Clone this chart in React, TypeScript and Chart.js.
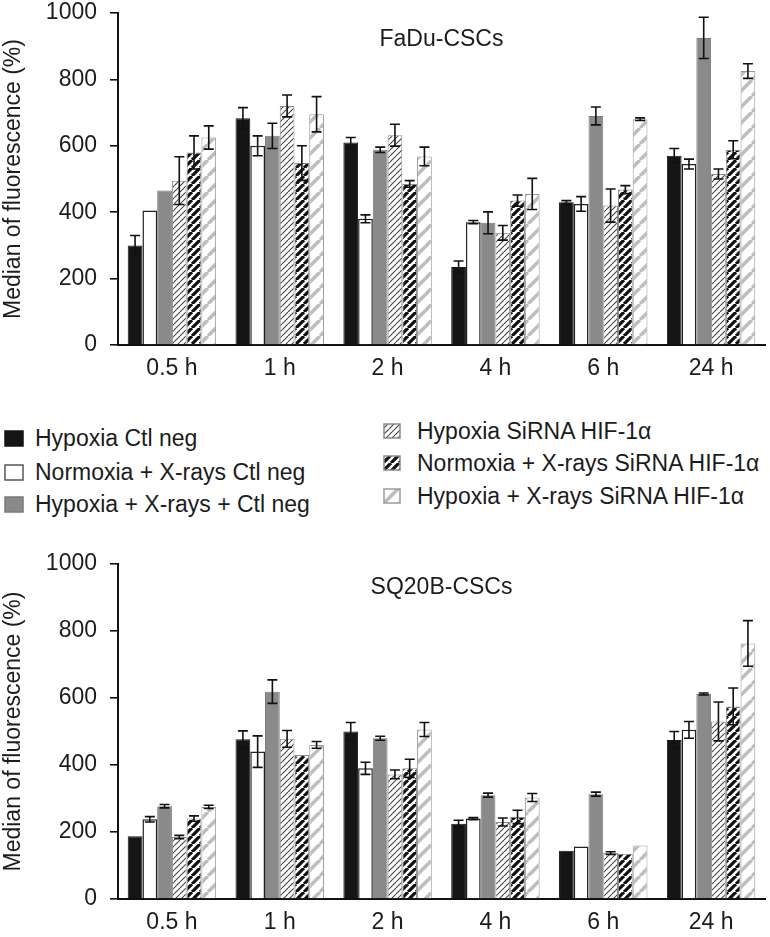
import React, { useEffect, useRef } from 'react';
import { Chart, registerables } from 'chart.js';

Chart.register(...registerables);

// ---------------- DATA ----------------
const categories = ['0.5 h', '1 h', '2 h', '4 h', '6 h', '24 h'];
const seriesNames = [
  'Hypoxia Ctl neg',
  'Normoxia + X-rays Ctl neg',
  'Hypoxia + X-rays + Ctl neg',
  'Hypoxia SiRNA HIF-1α',
  'Normoxia + X-rays SiRNA HIF-1α',
  'Hypoxia + X-rays SiRNA HIF-1α',
];
const yTickValues = [0, 200, 400, 600, 800, 1000];
const yAxisTitle = 'Median of fluorescence (%)';
const faduTitle = 'FaDu-CSCs';
const sq20bTitle = 'SQ20B-CSCs';

// FaDu-CSCs
const faduHypoxiaCtl = [300, 683, 610, 235, 430, 570];
const faduHypoxiaCtlErr = [30, 32, 15, 18, 5, 22];
const faduNormoxiaXCtl = [405, 600, 380, 370, 425, 545];
const faduNormoxiaXCtlErr = [0, 30, 12, 5, 22, 15];
const faduHypoxiaXCtl = [465, 630, 588, 368, 690, 925];
const faduHypoxiaXCtlErr = [0, 38, 8, 33, 27, 62];
const faduHypoxiaSi = [495, 720, 632, 338, 420, 515];
const faduHypoxiaSiErr = [72, 33, 33, 22, 50, 15];
const faduNormoxiaXSi = [580, 548, 485, 435, 468, 588];
const faduNormoxiaXSiErr = [50, 52, 10, 17, 12, 27];
const faduHypoxiaXSi = [625, 695, 568, 455, 680, 825];
const faduHypoxiaXSiErr = [35, 53, 28, 47, 4, 22];

// SQ20B-CSCs
const sqHypoxiaCtl = [187, 477, 500, 225, 144, 475];
const sqHypoxiaCtlErr = [0, 25, 27, 10, 0, 25];
const sqNormoxiaXCtl = [238, 440, 390, 240, 157, 505];
const sqNormoxiaXCtlErr = [8, 47, 18, 3, 0, 25];
const sqHypoxiaXCtl = [277, 619, 480, 310, 313, 612];
const sqHypoxiaXCtlErr = [5, 35, 6, 6, 6, 3];
const sqHypoxiaSi = [185, 478, 372, 230, 137, 530];
const sqHypoxiaSiErr = [5, 25, 13, 12, 4, 58];
const sqNormoxiaXSi = [240, 430, 390, 245, 135, 575];
const sqNormoxiaXSiErr = [8, 0, 27, 20, 0, 55];
const sqHypoxiaXSi = [275, 460, 506, 303, 160, 763];
const sqHypoxiaXSiErr = [5, 10, 21, 12, 0, 68];

const faduValues = [faduHypoxiaCtl, faduNormoxiaXCtl, faduHypoxiaXCtl, faduHypoxiaSi, faduNormoxiaXSi, faduHypoxiaXSi];
const faduErrors = [faduHypoxiaCtlErr, faduNormoxiaXCtlErr, faduHypoxiaXCtlErr, faduHypoxiaSiErr, faduNormoxiaXSiErr, faduHypoxiaXSiErr];
const sqValues = [sqHypoxiaCtl, sqNormoxiaXCtl, sqHypoxiaXCtl, sqHypoxiaSi, sqNormoxiaXSi, sqHypoxiaXSi];
const sqErrors = [sqHypoxiaCtlErr, sqNormoxiaXCtlErr, sqHypoxiaXCtlErr, sqHypoxiaSiErr, sqNormoxiaXSiErr, sqHypoxiaXSiErr];

// ---------------- STYLE ----------------
const FONT = '"Liberation Sans", Arial, Helvetica, sans-serif';
const TEXT = '#1c1c1c';

function diagTile(size: number, color: string, width: number, bg: string, dash?: number[]) {
  const c = document.createElement('canvas');
  c.width = size;
  c.height = size;
  const g = c.getContext('2d')!;
  g.fillStyle = bg;
  g.fillRect(0, 0, size, size);
  g.strokeStyle = color;
  g.lineWidth = width;
  if (dash) g.setLineDash(dash);
  g.beginPath();
  for (let k = -1; k <= 1; k++) {
    g.moveTo(k * size, size);
    g.lineTo(k * size + size, 0);
  }
  g.stroke();
  return c;
}

function seriesStyle(ctx: CanvasRenderingContext2D, i: number) {
  switch (i) {
    case 0:
      return { bg: '#151515', border: '#151515', bw: 1 };
    case 1:
      return { bg: '#ffffff', border: '#222222', bw: 1.5 };
    case 2:
      return { bg: '#8a8a8a', border: '#7a7a7a', bw: 1 };
    case 3:
      return { bg: ctx.createPattern(diagTile(6, '#444444', 1.1, '#ffffff'), 'repeat')!, border: '#8a8a8a', bw: 1 };
    case 4:
      return { bg: ctx.createPattern(diagTile(8, '#111111', 3.2, '#ffffff'), 'repeat')!, border: '#8a8a8a', bw: 1 };
    default:
      return { bg: ctx.createPattern(diagTile(16, '#bdbdbd', 3.5, '#ffffff'), 'repeat')!, border: '#9a9a9a', bw: 1 };
  }
}

const errorBarPlugin = {
  id: 'errorBars',
  afterDatasetsDraw(chart: any) {
    const ctx = chart.ctx;
    const yScale = chart.scales.y;
    chart.data.datasets.forEach((ds: any, di: number) => {
      const errs = ds.errors;
      if (!errs) return;
      const meta = chart.getDatasetMeta(di);
      meta.data.forEach((bar: any, i: number) => {
        const e = errs[i];
        if (!e) return;
        const v = ds.data[i];
        const x = bar.x;
        const yTop = yScale.getPixelForValue(v + e);
        const yBot = yScale.getPixelForValue(v - e);
        const cap = 5;
        ctx.save();
        ctx.strokeStyle = '#111';
        ctx.lineWidth = 1.6;
        ctx.beginPath();
        ctx.moveTo(x, yTop);
        ctx.lineTo(x, yBot);
        ctx.moveTo(x - cap, yTop);
        ctx.lineTo(x + cap, yTop);
        ctx.moveTo(x - cap, yBot);
        ctx.lineTo(x + cap, yBot);
        ctx.stroke();
        ctx.restore();
      });
    });
  },
};

const panelTitlePlugin = {
  id: 'panelTitle',
  afterDraw(chart: any, _args: any, opts: any) {
    const { ctx, chartArea } = chart;
    ctx.save();
    ctx.font = `23px ${FONT}`;
    ctx.fillStyle = TEXT;
    ctx.textAlign = 'center';
    ctx.textBaseline = 'middle';
    ctx.fillText(opts.text, (chartArea.left + chartArea.right) / 2, chartArea.top + opts.offset);
    ctx.restore();
  },
};

type PanelProps = {
  title: string;
  values: number[][];
  errors: number[][];
  height: number;
  padTop: number;
  xHeight: number;
  titleOffset: number;
};

function Panel({ title, values, errors, height, padTop, xHeight, titleOffset }: PanelProps) {
  const ref = useRef<HTMLCanvasElement | null>(null);
  useEffect(() => {
    const canvas = ref.current!;
    const ctx = canvas.getContext('2d')!;
    const datasets = values.map((vals, i) => {
      const s = seriesStyle(ctx, i);
      return {
        label: seriesNames[i],
        data: vals,
        errors: errors[i],
        backgroundColor: s.bg,
        borderColor: s.border,
        borderWidth: s.bw,
        barPercentage: 1.0,
        categoryPercentage: 0.82,
      } as any;
    });
    const chart = new Chart(canvas, {
      type: 'bar',
      data: { labels: categories, datasets },
      plugins: [errorBarPlugin, panelTitlePlugin as any],
      options: {
        responsive: false,
        animation: false,
        devicePixelRatio: 1,
        layout: { padding: { top: padTop, right: 5, left: 0, bottom: 0 } },
        plugins: {
          legend: { display: false },
          tooltip: { enabled: false },
          panelTitle: { text: title, offset: titleOffset },
        } as any,
        scales: {
          x: {
            grid: { display: false, drawTicks: false },
            border: { display: true, color: '#111', width: 2 },
            ticks: { color: TEXT, font: { family: FONT, size: 23 }, padding: 10 },
            afterFit: (scale: any) => {
              scale.height = xHeight;
              scale.paddingLeft = 0;
              scale.paddingRight = 0;
            },
          },
          y: {
            min: 0,
            max: 1000,
            afterBuildTicks: (scale: any) => {
              scale.ticks = yTickValues.map((v) => ({ value: v }));
            },
            grid: { display: true, drawOnChartArea: false, drawTicks: true, tickLength: 8, color: '#111', lineWidth: 1.6 },
            border: { display: true, color: '#111', width: 2 },
            ticks: {
              color: TEXT,
              font: { family: FONT, size: 23, lineHeight: 1 },
              padding: 13,
              callback: (v: any) => String(v),
            },
            title: {
              display: true,
              text: yAxisTitle,
              color: TEXT,
              font: { family: FONT, size: 23 },
              padding: { top: 0, bottom: 0 },
            },
            afterFit: (scale: any) => {
              scale.width = 118;
              scale.paddingTop = 0;
              scale.paddingBottom = 0;
            },
          },
        },
      },
    });
    return () => chart.destroy();
  }, []);
  return <canvas ref={ref} width={770} height={height} style={{ display: 'block', width: 770, height }} />;
}

function Swatch({ index, w, h }: { index: number; w: number; h: number }) {
  const ref = useRef<HTMLCanvasElement | null>(null);
  useEffect(() => {
    const c = ref.current!;
    const ctx = c.getContext('2d')!;
    const s = seriesStyle(ctx, index);
    ctx.clearRect(0, 0, w, h);
    ctx.fillStyle = s.bg as any;
    ctx.fillRect(1, 1, w - 2, h - 2);
    ctx.strokeStyle = index === 0 ? '#151515' : index === 1 ? '#555' : s.border;
    ctx.lineWidth = 1.5;
    ctx.strokeRect(1, 1, w - 2, h - 2);
  }, []);
  return <canvas ref={ref} width={w} height={h} style={{ display: 'block', width: w, height: h }} />;
}

const legendLeft = [
  { idx: 0, y: 438 },
  { idx: 1, y: 472 },
  { idx: 2, y: 504 },
];
const legendRight = [
  { idx: 3, y: 431 },
  { idx: 4, y: 463 },
  { idx: 5, y: 496 },
];

function LegendItem({ idx, x, y, sw, sh, textX }: { idx: number; x: number; y: number; sw: number; sh: number; textX: number }) {
  return (
    <>
      <div style={{ position: 'absolute', left: x, top: y - sh / 2 }}>
        <Swatch index={idx} w={sw} h={sh} />
      </div>
      <div
        style={{
          position: 'absolute',
          left: textX,
          top: y - 14,
          height: 28,
          lineHeight: '28px',
          fontFamily: FONT,
          fontSize: 23,
          color: TEXT,
          whiteSpace: 'nowrap',
        }}
      >
        {seriesNames[idx]}
      </div>
    </>
  );
}

export default function App() {
  return (
    <div style={{ position: 'absolute', left: 0, top: 0, width: 770, height: 937, background: '#fff', overflow: 'hidden' }}>
      <div style={{ position: 'absolute', left: 0, top: 0 }}>
        <Panel title={faduTitle} values={faduValues} errors={faduErrors} height={385} padTop={13} xHeight={40} titleOffset={27} />
      </div>
      {legendLeft.map((it) => (
        <LegendItem key={it.idx} idx={it.idx} x={4} y={it.y} sw={20} sh={17} textX={35} />
      ))}
      {legendRight.map((it) => (
        <LegendItem key={it.idx} idx={it.idx} x={383} y={it.y} sw={18} sh={16} textX={417} />
      ))}
      <div style={{ position: 'absolute', left: 0, top: 540 }}>
        <Panel title={sq20bTitle} values={sqValues} errors={sqErrors} height={397} padTop={24} xHeight={38} titleOffset={24} />
      </div>
    </div>
  );
}
